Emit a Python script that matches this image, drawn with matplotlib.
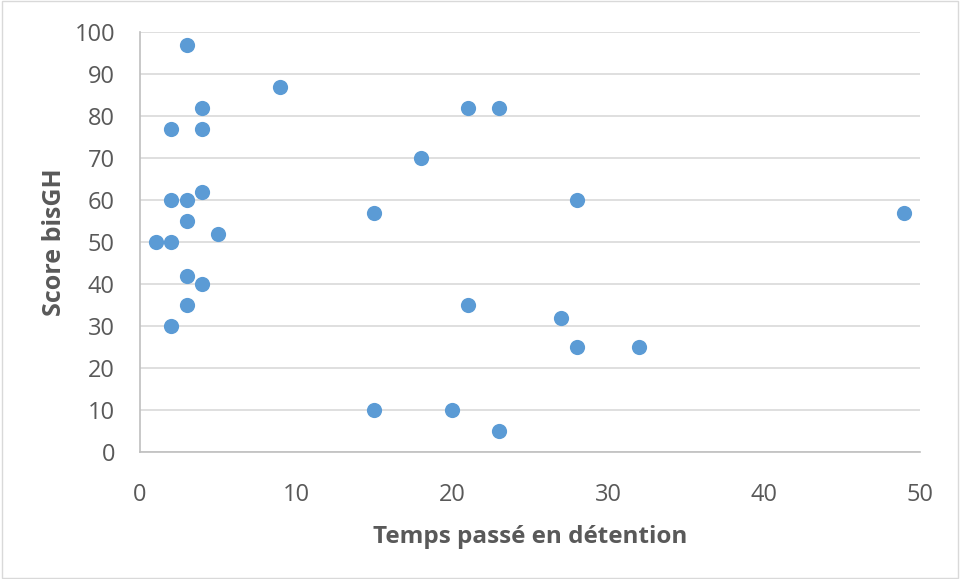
import matplotlib
matplotlib.use('Agg')
import matplotlib.pyplot as plt
from matplotlib.patches import Rectangle

# time spent in detention vs bisGH score
temps = [3, 9, 4, 21, 23, 2, 4, 18, 2, 3, 4, 28, 15, 49, 3, 5, 1, 2,
         3, 4, 3, 21, 27, 2, 28, 32, 15, 20, 23]
score = [97, 87, 82, 82, 82, 77, 77, 70, 60, 60, 62, 60, 57, 57, 55, 52, 50, 50,
         42, 40, 35, 35, 32, 30, 25, 25, 10, 10, 5]

xticks = [0, 10, 20, 30, 40, 50]
yticks = list(range(0, 101, 10))

plt.rcParams['font.family'] = ['Open Sans', 'DejaVu Sans']
text_col = '#595959'

fig = plt.figure(figsize=(9.6, 5.79), dpi=100)
ax = fig.add_axes([0.1458, 0.2193, 0.8125, 0.7254])

ax.scatter(temps, score, s=120, color='#5B9BD5', zorder=3, linewidths=0)

ax.set_xlim(0, 50)
ax.set_ylim(0, 100)
ax.set_xticks(xticks)
ax.set_yticks(yticks)
ax.grid(axis='y', color='#D9D9D9', linewidth=1.2, zorder=0)
ax.set_axisbelow(True)

for side in ['top', 'right']:
    ax.spines[side].set_visible(False)
ax.spines['left'].set_color('#BFBFBF')
ax.spines['bottom'].set_color('#BFBFBF')
ax.spines['left'].set_linewidth(1.2)
ax.spines['bottom'].set_linewidth(1.2)
ax.tick_params(length=0, labelsize=17, colors=text_col)
ax.tick_params(axis='x', pad=22)
ax.tick_params(axis='y', pad=18)

ax.set_xlabel('Temps passé en détention', fontsize=17.5, fontweight='bold',
              color=text_col, labelpad=13)
ax.set_ylabel('Score bisGH', fontsize=18, fontweight='bold',
              color=text_col, labelpad=5)

# thin frame round the whole chart
fig.patches.append(Rectangle((0.002, 0.002), 0.996, 0.996, transform=fig.transFigure,
                             fill=False, edgecolor='#D9D9D9', linewidth=1))

fig.savefig('out.png', dpi=100)
